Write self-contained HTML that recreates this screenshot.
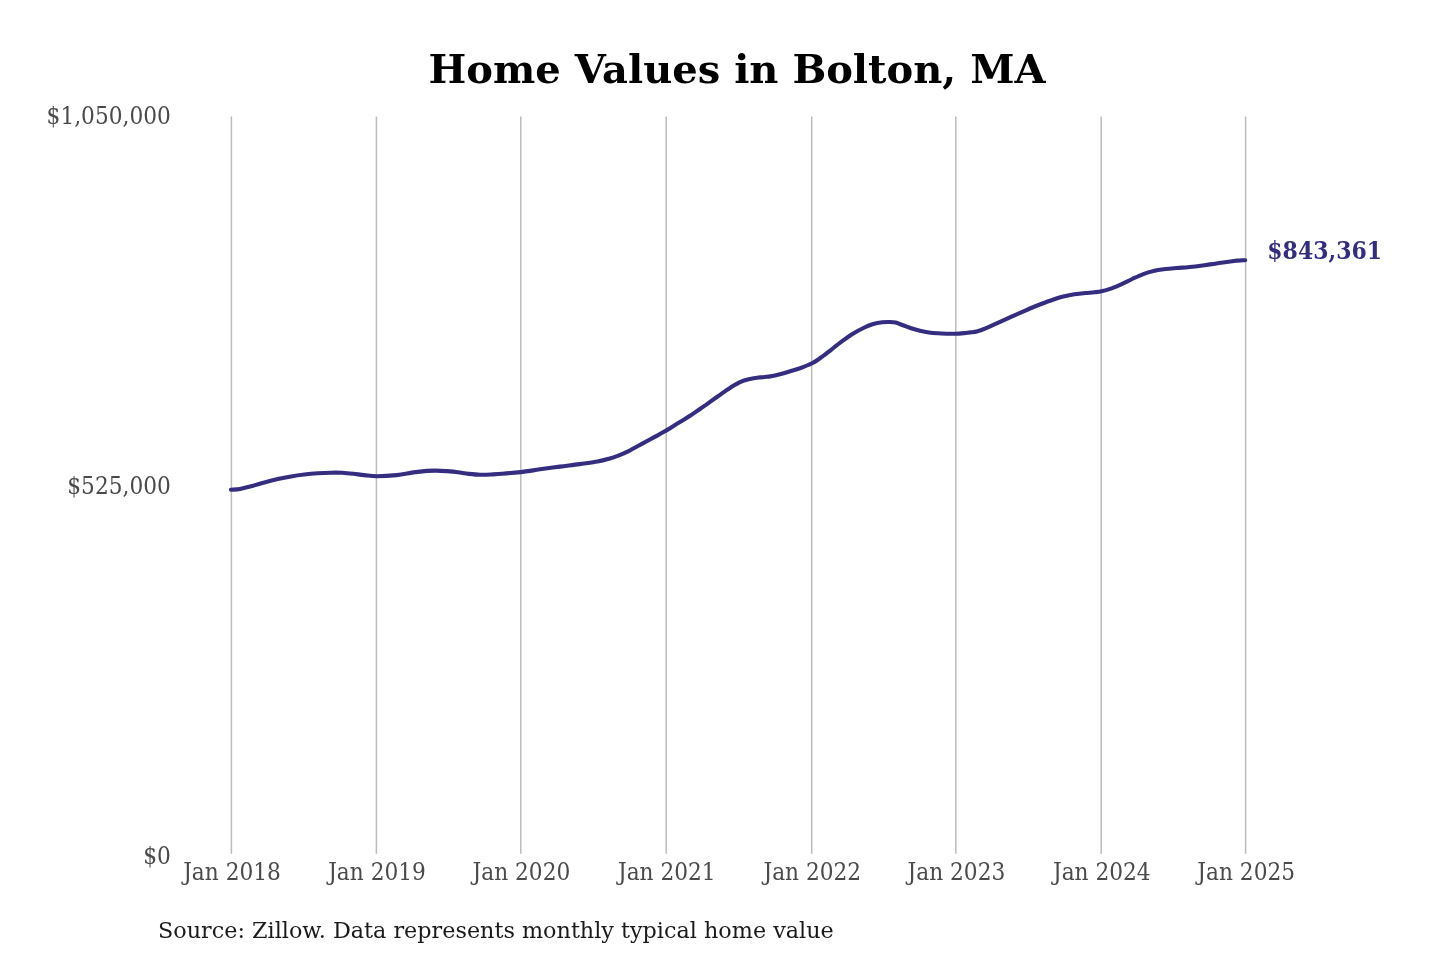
<!DOCTYPE html>
<html lang="en">
<head>
<meta charset="utf-8">
<title>Home Values in Bolton, MA</title>
<style>
html,body{margin:0;padding:0;background:#fff;}
body{width:1440px;height:960px;overflow:hidden;font-family:"DejaVu Serif","Liberation Serif",serif;}
svg{display:block;}
svg text{font-family:"DejaVu Serif","Liberation Serif",serif;}
.title{font-size:40px;font-weight:bold;fill:#000;text-anchor:middle;}
.tick{font-size:22px;fill:#4a4a4a;}
.ytick text{text-anchor:end;}
.xtick text{text-anchor:middle;}
.grid line{stroke:#bbbbbb;stroke-width:1.5;}
.series{fill:none;stroke:#342d80;stroke-width:4.1;stroke-linecap:round;stroke-linejoin:round;}
.endlabel{font-size:22px;font-weight:bold;fill:#342d80;}
.source{font-size:22.3px;fill:#1a1a1a;}
</style>
</head>
<body>
<svg width="1440" height="960" viewBox="0 0 1440 960">
<rect width="1440" height="960" fill="#ffffff"/>
<text class="title" transform="translate(737.0 82.5) scale(1 1)">Home Values in Bolton, MA</text>
<g class="grid">
<line x1="231.4" y1="116.5" x2="231.4" y2="853.8"/>
<line x1="376.4" y1="116.5" x2="376.4" y2="853.8"/>
<line x1="520.8" y1="116.5" x2="520.8" y2="853.8"/>
<line x1="666.2" y1="116.5" x2="666.2" y2="853.8"/>
<line x1="811.7" y1="116.5" x2="811.7" y2="853.8"/>
<line x1="955.8" y1="116.5" x2="955.8" y2="853.8"/>
<line x1="1101.2" y1="116.5" x2="1101.2" y2="853.8"/>
<line x1="1245.6" y1="116.5" x2="1245.6" y2="853.8"/>
</g>
<g class="tick ytick">
<text transform="translate(170.8 124.3) scale(0.987 1.07)">$1,050,000</text>
<text transform="translate(170.8 493.6) scale(0.987 1.07)">$525,000</text>
<text transform="translate(170.8 863.9) scale(0.987 1.07)">$0</text>
</g>
<g class="tick xtick">
<text transform="translate(232.0 880.0) scale(0.987 1.07)">Jan 2018</text>
<text transform="translate(377.0 880.0) scale(0.987 1.07)">Jan 2019</text>
<text transform="translate(521.4 880.0) scale(0.987 1.07)">Jan 2020</text>
<text transform="translate(666.8 880.0) scale(0.987 1.07)">Jan 2021</text>
<text transform="translate(812.3 880.0) scale(0.987 1.07)">Jan 2022</text>
<text transform="translate(956.4 880.0) scale(0.987 1.07)">Jan 2023</text>
<text transform="translate(1101.8 880.0) scale(0.987 1.07)">Jan 2024</text>
<text transform="translate(1246.2 880.0) scale(0.987 1.07)">Jan 2025</text>
</g>
<path class="series" d="M231.0 489.8 C232.5 489.6 236.7 489.5 240.0 488.9 C243.3 488.3 247.0 487.4 251.1 486.3 C255.2 485.2 259.9 483.7 264.4 482.5 C268.8 481.3 273.4 480.1 277.8 479.1 C282.2 478.1 286.7 477.2 291.1 476.4 C295.5 475.6 299.9 475.0 304.4 474.5 C308.8 474.0 313.4 473.6 317.8 473.3 C322.2 473.0 327.0 472.8 331.1 472.7 C335.2 472.6 338.5 472.6 342.2 472.8 C345.9 473.0 349.6 473.4 353.3 473.8 C357.0 474.2 360.4 474.7 364.4 475.1 C368.3 475.5 371.6 476.2 377.0 476.2 C382.4 476.2 390.6 475.7 396.7 475.1 C402.8 474.5 408.3 473.1 413.3 472.4 C418.3 471.7 423.0 471.2 426.7 470.9 C430.4 470.6 432.3 470.6 435.6 470.6 C438.9 470.6 443.0 470.8 446.7 471.1 C450.4 471.4 454.1 471.7 457.8 472.2 C461.5 472.7 465.2 473.5 468.9 473.9 C472.6 474.3 476.3 474.7 480.0 474.8 C483.7 474.9 487.4 474.7 491.1 474.5 C494.8 474.3 497.3 474.2 502.2 473.8 C507.1 473.4 516.1 472.6 520.7 472.1 C525.3 471.6 526.8 471.4 530.0 470.9 C533.2 470.4 535.0 470.0 540.0 469.3 C545.0 468.6 553.4 467.5 560.0 466.6 C566.6 465.7 573.1 465.0 579.4 464.1 C585.6 463.2 592.6 462.4 597.5 461.5 C602.4 460.6 605.5 459.7 609.0 458.7 C612.5 457.7 615.1 456.8 618.3 455.6 C621.5 454.4 624.9 453.0 628.1 451.4 C631.3 449.8 634.1 448.0 637.5 446.2 C640.9 444.4 645.2 442.1 648.5 440.3 C651.8 438.5 654.2 437.2 657.2 435.6 C660.2 434.0 663.1 432.3 666.4 430.4 C669.6 428.5 674.2 425.5 676.7 424.0 C679.2 422.5 679.0 422.7 681.2 421.3 C683.5 419.9 686.9 417.9 690.0 415.8 C693.1 413.8 697.3 410.8 700.0 409.0 C702.7 407.2 703.9 406.3 706.0 404.8 C708.1 403.3 710.2 401.8 712.5 400.1 C714.8 398.4 717.9 396.3 720.0 394.8 C722.1 393.3 723.3 392.5 725.0 391.3 C726.7 390.1 727.5 389.4 730.0 387.9 C732.5 386.4 736.7 383.6 740.0 382.1 C743.3 380.6 746.7 379.8 750.0 379.0 C753.3 378.2 756.9 377.8 760.0 377.4 C763.1 377.1 765.6 377.2 768.9 376.6 C772.2 376.1 776.5 375.1 780.0 374.2 C783.5 373.3 786.7 372.3 790.0 371.3 C793.3 370.3 796.3 369.5 800.0 368.2 C803.7 366.9 808.3 365.2 812.0 363.3 C815.7 361.4 819.0 358.9 822.2 356.6 C825.4 354.4 827.8 352.4 831.1 349.8 C834.4 347.2 838.5 343.9 842.2 341.2 C845.9 338.5 849.6 335.8 853.3 333.5 C857.0 331.2 861.1 329.1 864.4 327.5 C867.7 325.9 870.3 324.9 873.3 324.0 C876.3 323.1 879.6 322.6 882.2 322.3 C884.8 322.0 886.7 321.9 888.9 322.0 C891.1 322.1 893.4 322.1 895.6 322.6 C897.8 323.1 899.6 324.1 902.2 325.0 C904.8 325.9 908.1 327.3 911.1 328.3 C914.1 329.3 917.0 330.1 920.0 330.8 C923.0 331.5 925.9 332.1 928.9 332.5 C931.9 332.9 934.8 333.1 937.8 333.3 C940.8 333.5 943.7 333.6 946.7 333.7 C949.7 333.8 952.7 333.8 955.6 333.7 C958.5 333.6 962.0 333.3 964.4 333.1 C966.8 332.9 968.0 332.6 970.0 332.4 C972.0 332.1 974.1 332.3 976.7 331.6 C979.3 330.9 982.3 329.8 985.6 328.4 C988.9 327.0 993.0 325.1 996.7 323.4 C1000.4 321.7 1004.1 320.1 1007.8 318.4 C1011.5 316.7 1015.2 314.9 1018.9 313.3 C1022.6 311.7 1026.3 310.1 1030.0 308.5 C1033.7 306.9 1037.4 305.4 1041.1 304.0 C1044.8 302.6 1048.5 301.2 1052.2 300.0 C1055.9 298.8 1059.6 297.6 1063.3 296.6 C1067.0 295.7 1070.7 294.9 1074.4 294.3 C1078.1 293.7 1082.3 293.3 1085.6 293.0 C1088.9 292.7 1091.8 292.6 1094.4 292.3 C1097.1 292.0 1098.9 291.9 1101.5 291.3 C1104.1 290.7 1106.7 290.1 1110.0 288.9 C1113.3 287.7 1117.4 285.9 1121.1 284.3 C1124.8 282.7 1128.5 280.7 1132.2 279.0 C1135.9 277.3 1139.6 275.5 1143.3 274.1 C1147.0 272.7 1150.7 271.7 1154.4 270.8 C1158.1 269.9 1161.9 269.5 1165.6 269.0 C1169.3 268.5 1173.0 268.3 1176.7 268.0 C1180.4 267.7 1184.1 267.6 1187.8 267.3 C1191.5 267.0 1195.2 266.5 1198.9 266.0 C1202.6 265.5 1206.3 264.9 1210.0 264.4 C1213.7 263.8 1217.4 263.2 1221.1 262.7 C1224.8 262.2 1229.0 261.6 1232.2 261.2 C1235.4 260.8 1238.3 260.5 1240.5 260.4 C1242.7 260.2 1244.4 260.3 1245.2 260.3"/>
<text class="endlabel" transform="translate(1267.3 258.9) scale(1 1.07)">$843,361</text>
<text class="source" transform="translate(158.0 938.3) scale(1 1.04)">Source: Zillow. Data represents monthly typical home value</text>
</svg>
</body>
</html>
